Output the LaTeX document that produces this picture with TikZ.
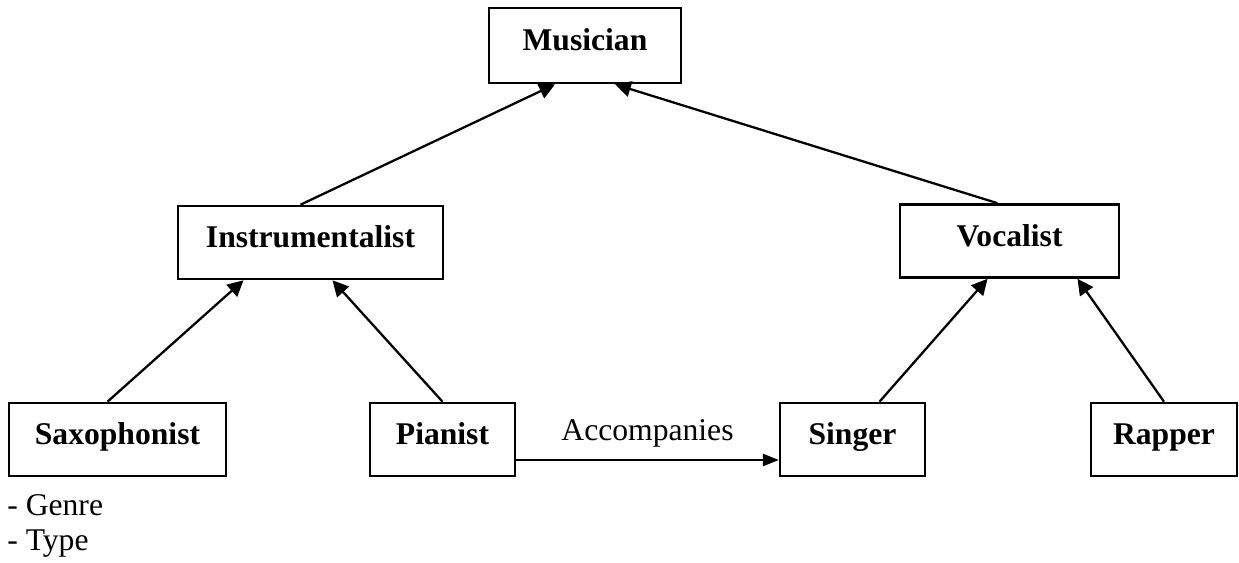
\documentclass[tikz,border=0pt]{standalone}
\usepackage{fontspec}
\setmainfont{Liberation Serif}
\usetikzlibrary{arrows.meta,calc}

\begin{document}
\begin{tikzpicture}[x=0.02cm,y=-0.02cm,
    classbox/.style={draw,line width=1.5pt,inner sep=0pt,minimum height=1.46cm,
        text height=11pt,text depth=5pt,font=\fontsize{18}{22}\selectfont\bfseries},
    isa/.style={line width=1.3pt,-{Triangle[length=9pt,width=9pt]}},
    assoc/.style={line width=1pt,-{Triangle[length=9pt,width=7pt]}},
    plain/.style={inner sep=0pt,font=\fontsize{18}{22}\selectfont}]
    \useasboundingbox (0,0) rectangle (1239,563);

    \node[classbox,minimum width=3.84cm,minimum height=1.5cm] (mus) at (585,45.5) {Musician};
    \node[classbox,minimum width=5.3cm] (instr) at (310.5,242.5) {Instrumentalist};
    \node[classbox,minimum width=4.38cm] (voc) at (1009.5,241) {Vocalist};
    \node[classbox,minimum width=4.34cm] (sax) at (117.5,439.5) {Saxophonist};
    \node[classbox,minimum width=2.9cm] (pia) at (442.5,439.5) {Pianist};
    \node[classbox,minimum width=2.9cm] (sin) at (852.5,439.5) {Singer};
    \node[classbox,minimum width=2.92cm] (rap) at (1164,439.5) {Rapper};

    \draw[isa] ($(instr.north)+(-10,0)$) -- ($(mus.south)+(-30,0)$);
    \draw[isa] ($(voc.north)+(-12,0)$) -- ($(mus.south)+(30,0)$);
    \draw[isa] ($(sax.north)+(-10,0)$) -- ($(instr.south)+(-67,0)$);
    \draw[isa] (pia.north) -- ($(instr.south)+(22,0)$);
    \draw[isa] ($(sin.north)+(27,0)$) -- ($(voc.south)+(-22,0)$);
    \draw[isa] (rap.north) -- ($(voc.south)+(68,0)$);

    \draw[assoc] ($(pia.east)+(0,20.5)$) -- node[plain,above=7pt] (acc) {Accompanies} ($(sin.west)+(0,20.5)$);

    \node[plain,anchor=base west] (genre) at (7,515) {- Genre};
    \node[plain,anchor=base west] (type) at (7,550) {- Type};
\end{tikzpicture}
\end{document}
